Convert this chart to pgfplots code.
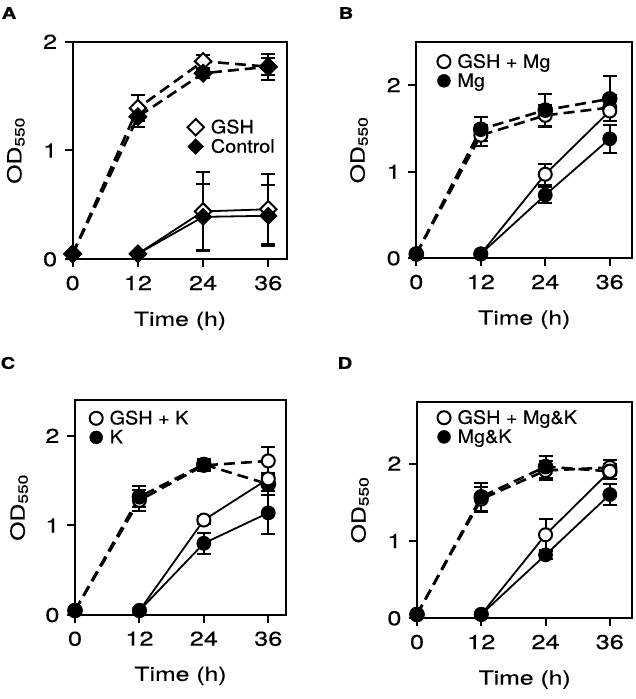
\documentclass[border=0pt]{standalone}
\usepackage{pgfplots}
\pgfplotsset{compat=1.18}
\usepackage{fontspec}
\setmainfont{TeX Gyre Heros}[FakeStretch=1.27, FakeBold=0.3]
\newfontfamily\lgfont{TeX Gyre Heros}[FakeStretch=1.07, FakeBold=0.3]
\newcommand{\lbl}{\fontsize{19.5}{23}\selectfont}
\newcommand{\tkl}{\fontsize{20}{24}\selectfont}
\begin{document}
\begin{tikzpicture}
\useasboundingbox (0pt,0pt) rectangle (636pt,699pt);
\pgfplotsset{
 panel/.style={
   scale only axis, anchor=south west, clip=false,
   xmin=0, ymin=0,
   xtick={0,12,24,36}, ytick={0,1,2},
   axis line style={line width=2pt},
   tick pos=left, tick align=outside, major tick length=8pt,
   every tick/.style={line width=2pt, black},
   xticklabel={\tkl\pgfmathprintnumber[assume math mode=true]{\tick}},
   yticklabel={\tkl\pgfmathprintnumber[assume math mode=true]{\tick}},
   xticklabel style={yshift=-5pt},
   yticklabel style={xshift=-4pt},
   xlabel={\lbl Time (h)}, ylabel={\lbl OD\textsubscript{550}},
   xlabel style={at={(axis description cs:0.5,-0.283)}, anchor=center},
   ylabel style={at={(axis description cs:-0.265,0.5)}, anchor=center},
   legend style={draw=none, fill=none, font=\lgfont\fontsize{18.5}{22}\selectfont, anchor=west, inner sep=0pt,
     /tikz/every odd column/.append style={column sep=5pt}},
   legend cell align=left,
 },
 dsh/.style={line width=2.6pt, dash pattern=on 11pt off 6pt, black},
 sol/.style={line width=1.8pt, black, solid},
 op/.style={mark=*, mark size=6.5pt, mark options={solid, fill=white, line width=2pt, draw=black}},
 fl/.style={mark=*, mark size=6.5pt, mark options={solid, fill=black, draw=black}},
 opd/.style={mark=square*, mark size=5.8pt, mark options={rotate=45, solid, fill=white, line width=2pt, draw=black}},
 fld/.style={mark=square*, mark size=5.6pt, mark options={rotate=45, solid, fill=black, draw=black}},
 eb/.style={error bars/.cd, y dir=both, y explicit, error mark=-, error bar style={line width=2pt, solid, black}, error mark options={rotate=90, mark size=7pt, line width=2pt, black, solid}},
}
% ---------------- A ----------------
\begin{axis}[panel, at={(72.7pt,439.7pt)}, width=214.6pt, height=217.6pt, xmax=39.5, ymax=2,
  legend style={at={(axis cs:21.1,1.125)}}]
\addlegendimage{only marks, opd}\addlegendentry{GSH}
\addlegendimage{only marks, fld}\addlegendentry{Control}
\addplot[dsh, opd, eb] coordinates {(0,0.05) +- (0,0) (12,1.39) +- (0,0.12) (24,1.82) +- (0,0.06) (36,1.77) +- (0,0.12)};
\addplot[dsh, fld, eb] coordinates {(0,0.05) +- (0,0) (12,1.31) +- (0,0.09) (24,1.71) +- (0,0.04) (36,1.77) +- (0,0.08)};
\addplot[sol, opd, eb] coordinates {(12,0.05) +- (0,0) (24,0.44) +- (0,0.36) (36,0.46) +- (0,0.32)};
\addplot[sol, fld, eb] coordinates {(12,0.05) +- (0,0) (24,0.39) +- (0,0.30) (36,0.40) +- (0,0.28)};
\end{axis}
% ---------------- B ----------------
\begin{axis}[panel, at={(416.3pt,440.7pt)}, width=216pt, height=216.6pt, xmax=40.2, ymax=2.5,
  legend style={at={(axis cs:3.9,2.16)}}]
\addlegendimage{only marks, op}\addlegendentry{GSH + Mg}
\addlegendimage{only marks, fl}\addlegendentry{Mg}
\addplot[dsh, op, eb] coordinates {(0,0.05) +- (0,0) (12,1.42) +- (0,0.12) (24,1.65) +- (0,0.12) (36,1.74) +- (0,0.15)};
\addplot[dsh, fl, eb] coordinates {(0,0.05) +- (0,0) (12,1.49) +- (0,0.14) (24,1.71) +- (0,0.19) (36,1.84) +- (0,0.26)};
\addplot[sol, op, eb] coordinates {(12,0.05) +- (0,0) (24,0.97) +- (0,0.12) (36,1.70) +- (0,0.12)};
\addplot[sol, fl, eb] coordinates {(12,0.05) +- (0,0) (24,0.73) +- (0,0.09) (36,1.38) +- (0,0.16)};
\end{axis}
% ---------------- C ----------------
\begin{axis}[panel, at={(75pt,84pt)}, width=211pt, height=215pt, xmax=39.3, ymax=2.4,
  legend style={at={(axis cs:2.7,2.09)}}]
\addlegendimage{only marks, op}\addlegendentry{GSH + K}
\addlegendimage{only marks, fl}\addlegendentry{K}
\addplot[dsh, op, eb] coordinates {(0,0.05) +- (0,0) (12,1.28) +- (0,0.12) (24,1.67) +- (0,0.06) (36,1.72) +- (0,0.16)};
\addplot[dsh, fl, eb] coordinates {(0,0.05) +- (0,0) (12,1.32) +- (0,0.12) (24,1.68) +- (0,0.06) (36,1.46) +- (0,0.12)};
\addplot[sol, op, eb] coordinates {(12,0.05) +- (0,0) (24,1.06) +- (0,0.04) (36,1.52) +- (0,0.06)};
\addplot[sol, fl, eb] coordinates {(12,0.05) +- (0,0) (24,0.80) +- (0,0.12) (36,1.14) +- (0,0.24)};
\end{axis}
% ---------------- D ----------------
\begin{axis}[panel, at={(417pt,80.7pt)}, width=215.3pt, height=216.6pt, xmax=40.2, ymax=2.8,
  legend style={at={(axis cs:3.8,2.47)}}]
\addlegendimage{only marks, op}\addlegendentry{GSH + Mg\&K}
\addlegendimage{only marks, fl}\addlegendentry{Mg\&K}
\addplot[dsh, op, eb] coordinates {(0,0.05) +- (0,0) (12,1.54) +- (0,0.16) (24,1.91) +- (0,0.12) (36,1.95) +- (0,0.10)};
\addplot[dsh, fl, eb] coordinates {(0,0.05) +- (0,0) (12,1.57) +- (0,0.18) (24,1.96) +- (0,0.14) (36,1.90) +- (0,0.10)};
\addplot[sol, op, eb] coordinates {(12,0.05) +- (0,0) (24,1.08) +- (0,0.20) (36,1.90) +- (0,0.10)};
\addplot[sol, fl, eb] coordinates {(12,0.05) +- (0,0) (24,0.82) +- (0,0.05) (36,1.60) +- (0,0.14)};
\end{axis}
% panel letters
\node[font=\bfseries\fontsize{16}{19}\selectfont] at (9pt,686pt) {A};
\node[font=\bfseries\fontsize{16}{19}\selectfont] at (346pt,686pt) {B};
\node[font=\bfseries\fontsize{16}{19}\selectfont] at (8pt,336pt) {C};
\node[font=\bfseries\fontsize{16}{19}\selectfont] at (345pt,336pt) {D};
\end{tikzpicture}
\end{document}
